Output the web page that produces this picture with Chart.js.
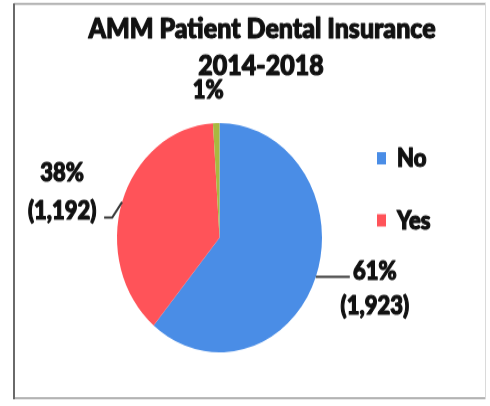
<!DOCTYPE html>
<html>
<head>
<meta charset="utf-8">
<script src="https://cdn.jsdelivr.net/npm/chart.js@4.4.0/dist/chart.umd.min.js"></script>
<style>
  html, body { margin: 0; padding: 0; background: #fff; }
</style>
</head>
<body>
<!-- drawn at 490x363 and stretched to 406 tall, like the squashed original -->
<canvas id="insuranceChart" width="490" height="363" style="width:490px;height:406px;display:block"></canvas>
<script>
// Data
const categories = ['No', 'Yes', 'Unknown'];
const patients = [1923, 1192, 32];
const legendCategories = ['No', 'Yes'];
const showCount = [true, true, false];
const titleLines = ['AMM Patient Dental Insurance', '2014-2018'];

const sliceColors = ['#4a8de6', '#ff5359', '#a9b840'];
const textColor = '#111';
const labelFont = '900 22px Lato';
const titleFont = '900 25px Lato';

// leader line bends (relative to the slice edge) and text offset (relative to the leader end)
const labelLayout = [
    { leader: [[34, 0]], text: [25, -4.5], gap: 30.5 },
    { leader: [[-10, 14], [-18, 14]], text: [-42, -39.5], gap: 34 },
    { leader: [], text: [-8, -29.5], gap: 0 }
];

// heavy text, the original is a thick blurry scan
function heavyText(ctx, str, x, y) {
    ctx.lineWidth = 1.1;
    ctx.strokeStyle = textColor;
    ctx.lineJoin = 'round';
    ctx.strokeText(str, x, y);
    ctx.fillText(str, x, y);
}

const extrasPlugin = {
    id: 'extras',
    beforeDraw(chart) {
        const ctx = chart.ctx;
        ctx.save();
        // frame
        ctx.lineWidth = 1.5;
        ctx.strokeStyle = '#9a9a9a';
        ctx.beginPath();
        ctx.moveTo(14, 3.6); ctx.lineTo(486, 3.6);
        ctx.moveTo(14, 356); ctx.lineTo(486, 356);
        ctx.stroke();
        ctx.lineWidth = 2;
        ctx.strokeStyle = '#6a6a6a';
        ctx.beginPath();
        ctx.moveTo(14, 3); ctx.lineTo(14, 357);
        ctx.stroke();
        ctx.lineWidth = 1;
        ctx.strokeStyle = '#dadada';
        ctx.beginPath();
        ctx.moveTo(485.5, 3); ctx.lineTo(485.5, 357);
        ctx.stroke();

        // title
        ctx.fillStyle = textColor;
        ctx.textAlign = 'center';
        ctx.textBaseline = 'middle';
        ctx.font = titleFont;
        heavyText(ctx, titleLines[0], 262, 25.5);
        heavyText(ctx, titleLines[1], 261, 59);
        ctx.restore();
    },
    afterDraw(chart) {
        const ctx = chart.ctx;
        const meta = chart.getDatasetMeta(0);
        const total = patients.reduce((a, b) => a + b, 0);
        ctx.save();
        ctx.font = labelFont;
        ctx.fillStyle = textColor;
        ctx.textAlign = 'center';
        ctx.textBaseline = 'middle';

        meta.data.forEach((arc, i) => {
            const mid = (arc.startAngle + arc.endAngle) / 2;
            const px = arc.x + Math.cos(mid) * arc.outerRadius;
            const py = arc.y + Math.sin(mid) * arc.outerRadius;
            const lay = labelLayout[i];

            let ex = px, ey = py;
            if (lay.leader.length) {
                ctx.strokeStyle = '#3a3a3a';
                ctx.lineWidth = 2;
                ctx.beginPath();
                ctx.moveTo(px, py);
                lay.leader.forEach(p => {
                    ex = px + p[0];
                    ey = py + p[1];
                    ctx.lineTo(ex, ey);
                });
                ctx.stroke();
            }

            const pct = Math.round(patients[i] / total * 100) + '%';
            const tx = ex + lay.text[0];
            const ty = ey + lay.text[1];
            heavyText(ctx, pct, tx, ty);
            if (showCount[i]) {
                heavyText(ctx, '(' + patients[i].toLocaleString('en-US') + ')', tx, ty + lay.gap);
            }
        });

        // legend
        ctx.textAlign = 'left';
        legendCategories.forEach((name, i) => {
            const idx = categories.indexOf(name);
            const y = 142 + i * 55.5;
            ctx.fillStyle = sliceColors[idx];
            ctx.fillRect(377, y - 6, 9, 11);
            ctx.fillStyle = textColor;
            heavyText(ctx, name, 397, y);
        });
        ctx.restore();
    }
};

const ctx = document.getElementById('insuranceChart').getContext('2d');
new Chart(ctx, {
    type: 'pie',
    data: {
        labels: categories,
        datasets: [{
            data: patients,
            backgroundColor: sliceColors,
            borderWidth: 0
        }]
    },
    options: {
        responsive: false,
        animation: false,
        layout: {
            padding: { left: 117, right: 168, top: 110, bottom: 48 }
        },
        plugins: {
            legend: { display: false },
            title: { display: false },
            tooltip: { enabled: false }
        }
    },
    plugins: [extrasPlugin]
});
</script>
</body>
</html>
